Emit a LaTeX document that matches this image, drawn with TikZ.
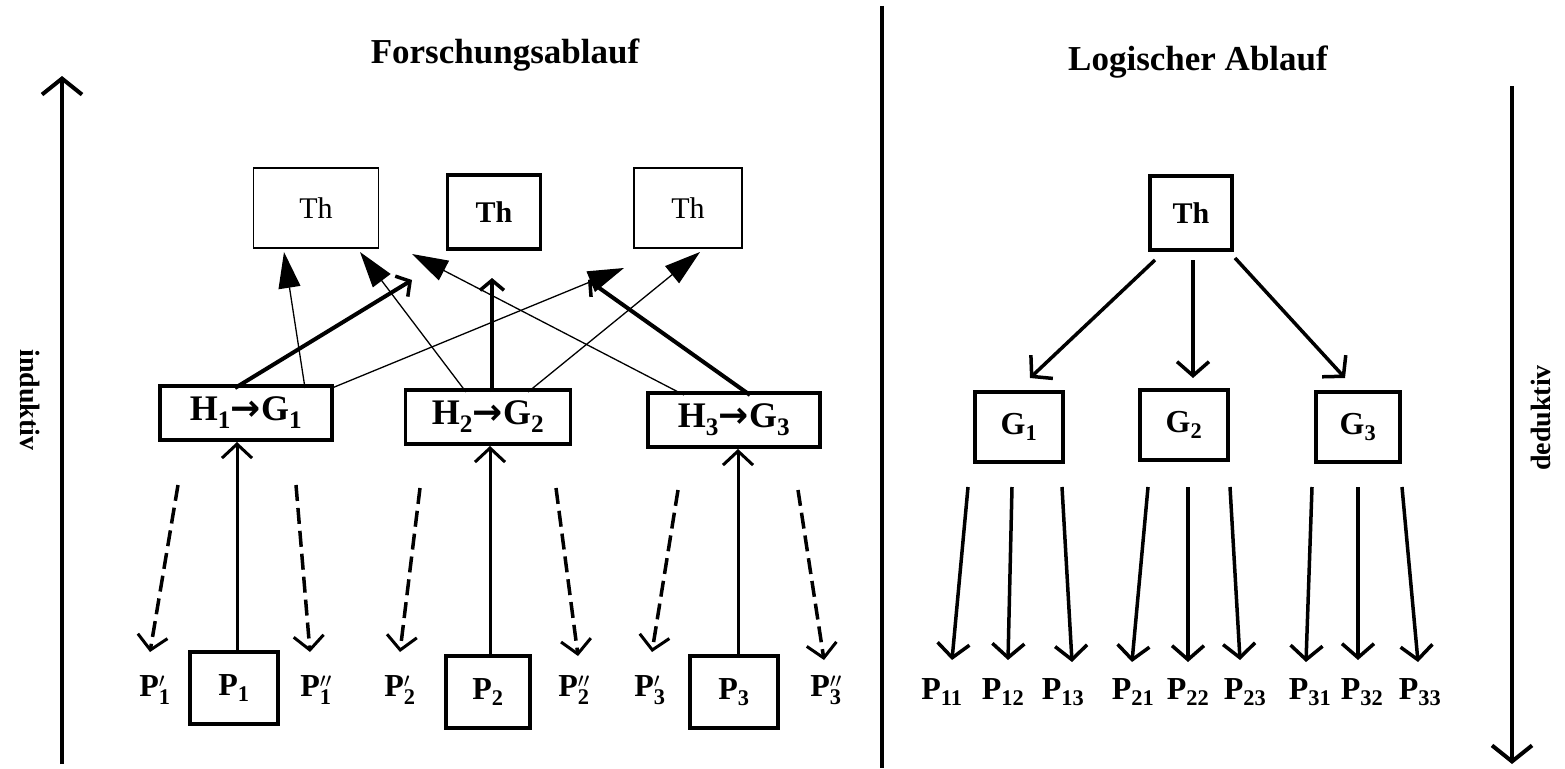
\documentclass[tikz,border=0pt]{standalone}
\usepackage{fontspec}
\setmainfont{Liberation Serif}
\newfontfamily\arrfont{DejaVu Sans}
\usetikzlibrary{arrows.meta}
\newcommand{\sbx}[1]{\textsubscript{#1}}
\newcommand{\pp}[2]{$\mathbf{P}^{#1}_{\mathbf{#2}}$}
\newcommand{\rar}{{\arrfont\bfseries →}}
\begin{document}
\begin{tikzpicture}[x=1pt,y=-1pt,
  lbl/.style={font=\fontsize{32}{36}\selectfont\bfseries, inner sep=0},
  hlbl/.style={font=\fontsize{36}{40}\selectfont\bfseries, inner sep=0},
  thinbox/.style={draw, line width=1.3pt, inner sep=0, font=\fontsize{30}{34}\selectfont},
  thickbox/.style={draw, line width=3.5pt, inner sep=0, font=\fontsize{30}{34}\selectfont\bfseries},
  title/.style={font=\fontsize{35}{38}\selectfont\bfseries, inner sep=0},
  side/.style={font=\fontsize{28}{32}\selectfont\bfseries, inner sep=0},
  bigarrow/.style={line width=4pt, -{Straight Barb[length=16pt,width=40pt,line width=4pt]}},
  solidup/.style={line width=3pt, -{Straight Barb[length=14pt,width=30pt,line width=3pt]}},
  dasharr/.style={line width=3.5pt, dash pattern=on 16pt off 7pt, -{Straight Barb[length=14pt,width=30pt,line width=3pt]}},
  thinarr/.style={line width=1.3pt, -{Triangle[length=36pt,width=22pt]}},
  thickarr/.style={line width=4pt, -{Straight Barb[length=10pt,width=24pt,line width=3.5pt]}},
  downarr/.style={line width=3.5pt, -{Straight Barb[length=14pt,width=32pt,line width=3.5pt]}},
]
\useasboundingbox (0,0) rectangle (1565,768);

% titles
\node[title] (t1) at (505,55) {Forschungsablauf};
\node[title] (t2) at (1198,62) {Logischer Ablauf};

% side arrows
\coordinate (la0) at (62,764);
\coordinate (la1) at (62,76);
\draw[bigarrow] (la0) -- (la1);
\node[side, rotate=-90] (ind) at (30,400) {induktiv};
\coordinate (ra0) at (1512,86);
\coordinate (ra1) at (1512,764);
\draw[bigarrow] (ra0) -- (ra1);
\node[side, rotate=90] (ded) at (1541,418) {deduktiv};

% divider
\coordinate (d0) at (882,6);
\coordinate (d1) at (882,768);
\draw[line width=4pt] (d0) -- (d1);

% ---------- left: Forschungsablauf ----------
\node[thinbox, minimum width=125, minimum height=80] (th1) at (316,208) {Th};
\node[thickbox, minimum width=93, minimum height=74] (th2) at (494,212) {Th};
\node[thinbox, minimum width=108, minimum height=80] (th3) at (688,208) {Th};

\node[thickbox, hlbl, minimum width=172, minimum height=54] (h1) at (246,413) {H\sbx{1}\rar G\sbx{1}};
\node[thickbox, hlbl, minimum width=165, minimum height=54] (h2) at (488,417) {H\sbx{2}\rar G\sbx{2}};
\node[thickbox, hlbl, minimum width=172, minimum height=54] (h3) at (734,420) {H\sbx{3}\rar G\sbx{3}};

\node[thickbox, lbl, minimum width=88, minimum height=72] (p1) at (234,688) {P\sbx{1}};
\node[thickbox, lbl, minimum width=84, minimum height=72] (p2) at (488,692) {P\sbx{2}};
\node[thickbox, lbl, minimum width=88, minimum height=72] (p3) at (734,692) {P\sbx{3}};

\node[lbl] (p1a) at (155,690) {\pp{\prime}{1}};
\node[lbl] (p1b) at (316,690) {\pp{\prime\prime}{1}};
\node[lbl] (p2a) at (400,690) {\pp{\prime}{2}};
\node[lbl] (p2b) at (574,690) {\pp{\prime\prime}{2}};
\node[lbl] (p3a) at (650,690) {\pp{\prime}{3}};
\node[lbl] (p3b) at (826,690) {\pp{\prime\prime}{3}};

% H -> Th arrows
\coordinate (a1s) at (305,388);
\coordinate (a1e) at (284,252);
\draw[thinarr] (a1s) -- (a1e);
\coordinate (b1s) at (235,388);
\coordinate (b1e) at (412,280);
\draw[thickarr] (b1s) -- (b1e);
\coordinate (c1s) at (332,388);
\coordinate (c1e) at (624,268);
\draw[thinarr] (c1s) -- (c1e);

\coordinate (d2s) at (466,392);
\coordinate (d2e) at (360,252);
\draw[thinarr] (d2s) -- (d2e);
\coordinate (e2s) at (492,392);
\coordinate (e2e) at (492,278);
\draw[thickarr] (e2s) -- (e2e);
\coordinate (f2s) at (528,392);
\coordinate (f2e) at (700,252);
\draw[thinarr] (f2s) -- (f2e);

\coordinate (g3s) at (684,395);
\coordinate (g3e) at (412,254);
\draw[thinarr] (g3s) -- (g3e);
\coordinate (h3s) at (750,395);
\coordinate (h3e) at (588,280);
\draw[thickarr] (h3s) -- (h3e);

% P -> H arrows
\coordinate (u1s) at (237,652); \coordinate (u1e) at (237,442);
\coordinate (u2s) at (490,656); \coordinate (u2e) at (490,446);
\coordinate (u3s) at (738,656); \coordinate (u3e) at (738,449);
\draw[solidup] (u1s) -- (u1e);
\draw[solidup] (u2s) -- (u2e);
\draw[solidup] (u3s) -- (u3e);

% dashed arrows
\coordinate (q1) at (178,485); \coordinate (q1e) at (150,652);
\coordinate (q2) at (296,485); \coordinate (q2e) at (310,652);
\coordinate (q3) at (420,488); \coordinate (q3e) at (400,652);
\coordinate (q4) at (556,488); \coordinate (q4e) at (578,656);
\coordinate (q5) at (678,490); \coordinate (q5e) at (652,652);
\coordinate (q6) at (798,490); \coordinate (q6e) at (824,660);
\draw[dasharr] (q1) -- (q1e);
\draw[dasharr] (q2) -- (q2e);
\draw[dasharr] (q3) -- (q3e);
\draw[dasharr] (q4) -- (q4e);
\draw[dasharr] (q5) -- (q5e);
\draw[dasharr] (q6) -- (q6e);

% ---------- right: Logischer Ablauf ----------
\node[thickbox, minimum width=82, minimum height=74] (thr) at (1191,213) {Th};
\node[thickbox, lbl, minimum width=88, minimum height=70] (g1) at (1019,427) {G\sbx{1}};
\node[thickbox, lbl, minimum width=88, minimum height=70] (g2) at (1184,425) {G\sbx{2}};
\node[thickbox, lbl, minimum width=84, minimum height=70] (g3) at (1358,427) {G\sbx{3}};

\coordinate (r1s) at (1155,260); \coordinate (r1e) at (1030,378);
\coordinate (r2s) at (1193,260); \coordinate (r2e) at (1193,378);
\coordinate (r3s) at (1235,258); \coordinate (r3e) at (1345,378);
\draw[downarr] (r1s) -- (r1e);
\draw[downarr] (r2s) -- (r2e);
\draw[downarr] (r3s) -- (r3e);

\node[lbl] (p11) at (942,692) {P\sbx{11}};
\node[lbl] (p12) at (1003,692) {P\sbx{12}};
\node[lbl] (p13) at (1063,692) {P\sbx{13}};
\node[lbl] (p21) at (1133,692) {P\sbx{21}};
\node[lbl] (p22) at (1188,692) {P\sbx{22}};
\node[lbl] (p23) at (1245,692) {P\sbx{23}};
\node[lbl] (p31) at (1310,692) {P\sbx{31}};
\node[lbl] (p32) at (1362,692) {P\sbx{32}};
\node[lbl] (p33) at (1420,692) {P\sbx{33}};

\coordinate (s11) at (968,487); \coordinate (e11) at (952,660);
\coordinate (s12) at (1012,487); \coordinate (e12) at (1008,660);
\coordinate (s13) at (1062,487); \coordinate (e13) at (1072,662);
\coordinate (s21) at (1148,487); \coordinate (e21) at (1132,662);
\coordinate (s22) at (1188,487); \coordinate (e22) at (1188,662);
\coordinate (s23) at (1230,487); \coordinate (e23) at (1240,660);
\coordinate (s31) at (1312,487); \coordinate (e31) at (1306,662);
\coordinate (s32) at (1358,487); \coordinate (e32) at (1358,660);
\coordinate (s33) at (1402,487); \coordinate (e33) at (1418,662);
\foreach \k in {11,12,13,21,22,23,31,32,33} {
  \draw[downarr] (s\k) -- (e\k);
}
\end{tikzpicture}
\end{document}
